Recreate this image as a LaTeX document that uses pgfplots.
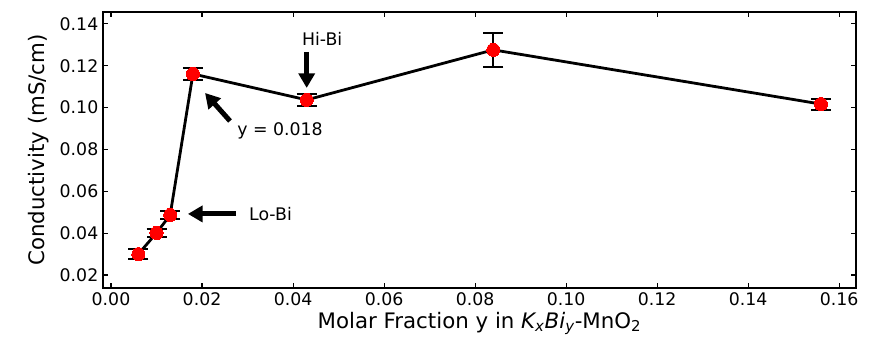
\documentclass[border=0pt]{standalone}
\usepackage{pgfplots}
\pgfplotsset{compat=1.18}
\usepackage{fontspec}
\setmainfont{DejaVu Sans}
\usetikzlibrary{arrows.meta}
\begin{document}
\begin{tikzpicture}
\begin{axis}[
  scale only axis,
  width=564.75pt, height=207pt,
  xmin=-0.00176, xmax=0.1637,
  ymin=0.0138, ymax=0.1457,
  xtick={0,0.02,...,0.16},
  ytick={0.02,0.04,...,0.14},
  /pgf/number format/.cd, fixed, fixed zerofill, precision=2, assume math mode=true,
  /pgfplots/.cd,
  scaled ticks=false,
  tick align=inside,
  major tick length=4pt,
  tick style={black, line width=0.8pt},
  axis line style={line width=1pt},
  tick label style={font=\fontsize{13}{15}\selectfont},
  label style={font=\fontsize{16}{18}\selectfont},
  xlabel={Molar Fraction y in \textit{K\textsubscript{x}Bi\textsubscript{y}}-MnO\textsubscript{2}},
  ylabel={Conductivity (mS/cm)},
  ylabel style={yshift=1pt},
  xlabel style={yshift=2pt},
  clip=false,
]
\addplot+[black, line width=2.1pt, mark=*, mark size=4.9pt,
  mark options={fill=red, draw=red, line width=0pt},
  error bars/.cd, y dir=both, y explicit,
  error bar style={line width=1.5pt, black},
  error mark options={rotate=90, mark size=7.5pt, line width=1.5pt, black}]
  coordinates {
  (0.006,0.0300) +- (0,0.0025)
  (0.010,0.0401) +- (0,0.0020)
  (0.013,0.0487) +- (0,0.0020)
  (0.018,0.1161) +- (0,0.0029)
  (0.043,0.1037) +- (0,0.0027)
  (0.084,0.1276) +- (0,0.0081)
  (0.156,0.1017) +- (0,0.0026)
  };
\draw[line width=3.75pt, -{Triangle[width=12pt,length=11pt]}] (axis cs:0.043,0.1266) -- (axis cs:0.043,0.1094);
\draw[line width=3.75pt, -{Triangle[width=12pt,length=11pt]}] (axis cs:0.02615,0.0936) -- (axis cs:0.02066,0.1070);
\draw[line width=3.75pt, -{Triangle[width=12pt,length=11pt]}] (axis cs:0.0275,0.0492) -- (axis cs:0.0169,0.0492);
\node[font=\fontsize{13}{15}\selectfont] at (axis cs:0.0464,0.1328) {Hi-Bi};
\node[font=\fontsize{13}{15}\selectfont] at (axis cs:0.03714,0.0888) {y = 0.018};
\node[font=\fontsize{13}{15}\selectfont] at (axis cs:0.03505,0.0492) {Lo-Bi};
\end{axis}
\path ([xshift=-77.25pt,yshift=-41.25pt]current axis.south west) rectangle ([xshift=21pt,yshift=9pt]current axis.north east);
\end{tikzpicture}
\end{document}
